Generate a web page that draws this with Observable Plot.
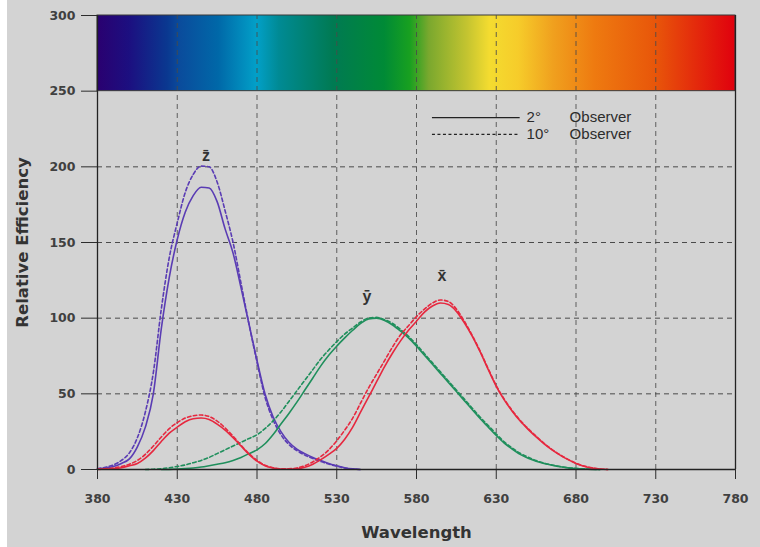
<!DOCTYPE html>
<html>
<head>
<meta charset="utf-8">
<script src="https://cdn.jsdelivr.net/npm/d3@7"></script>
<script src="https://cdn.jsdelivr.net/npm/@observablehq/plot@0.6"></script>
<style>
  html, body { margin: 0; padding: 0; background: #ffffff; }
  #chart { position: absolute; left: 0; top: 0; }
  #chart g[aria-label="x-axis tick label"] text,
  #chart g[aria-label="y-axis tick label"] text {
    font-family: 'DejaVu Sans', sans-serif; font-size: 12.5px !important; font-weight: bold; fill: #404040;
  }
</style>
</head>
<body>
<div id="chart"></div>
<script>
// ---- data ----
const wavelengths = [380,385,390,395,400,405,410,415,420,425,430,435,440,445,450,455,460,465,470,475,480,485,490,495,500,505,510,515,520,525,530,535,540,545,550,555,560,565,570,575,580,585,590,595,600,605,610,615,620,625,630,635,640,645,650,655,660,665,670,675,680,685,690,695,700];

const z2 = [0.5,1,2,4,7,15,28,50,93,127,152,170,181,186.5,186,177,159,143,120,96,72,50,35,25,18,13.5,10.5,8,6,4,2.5,1.2,0.4,0,null,null,null,null,null,null,null,null,null,null,null,null,null,null,null,null,null,null,null,null,null,null,null,null,null,null,null,null,null,null,null];
const z10 = [0.5,1.5,3,6,11,21,38,64,106,140,163,183,195,200.5,200,190,171,150,123,96,71,48,33,23,16.5,12.5,9.5,7.3,5.3,3.6,2.2,1,0.3,0,null,null,null,null,null,null,null,null,null,null,null,null,null,null,null,null,null,null,null,null,null,null,null,null,null,null,null,null,null,null,null];
const x2 = [0.1,0.3,0.6,1.2,2.5,4,7.5,12.5,18.5,24,28,31.5,33.5,34,33,30,26,21,15.5,10,5.5,2.5,1,0.3,0.2,0.5,1.5,3.5,6.5,10,14,20,28,38,48,58,68,77,85,92,98,104,108,110,109,104.5,97,88,77.5,66,55,46,38.5,32,26.5,21.5,17,13,9.5,6.5,4,2.2,1,0.3,0];
const x10 = [0.2,0.5,1,2,3.5,6,10,15.5,21.5,27,31,34,35.5,36,35,32,27.5,22,16,10.5,6,2.8,1.2,0.5,0.5,1,2.5,5,8.5,13,19,26,34,44,54,63,72,81,89,95,101,106,110,112,111,106,98,88.5,78,66.5,55.5,46.5,39,32.5,27,22,17.3,13.2,9.7,6.7,4.1,2.3,1.1,0.4,0];
const y2 = [null,null,null,null,null,null,null,null,0,0.1,0.3,0.6,1,1.6,2.5,3.5,4.5,6,8,10.5,13,17,23,30,37,44.5,52.5,60.5,68.5,75.5,81.5,87,92,96.5,99.5,100,98.5,95.5,91.5,87,81.5,75.5,69.5,63.5,57.5,51.5,45.5,39.5,33.5,28,22.5,17.5,13.5,10,7.5,5.5,4,2.8,1.8,1.1,0.6,0.3,0.1,0,null];
const y10 = [null,null,null,null,null,null,0,0.2,0.5,1.2,2,3,4.5,6,8,10.5,13,15.5,18,20.5,23,27,32,38,45,52,59,66,73,79,84.5,89.5,93.5,97.5,100,100.5,99,96.5,92.5,88,82.5,76.5,70.5,64.5,58.5,52.5,46.5,40.5,34.5,29,23.5,18.3,14.2,10.7,8.1,5.9,4.2,3,2,1.2,0.7,0.4,0.2,0,null];

const xTicks = [380,430,480,530,580,630,680,730,780];
const yTicks = [0,50,100,150,200,250,300];
const gridX = [430,480,530,580,630,680,730];
const gridY = [50,100,150,200];

const spectrumRange = [380, 780];
const spectrumBand = [250, 300];

const curveLabels = ["z\u0304", "y\u0304", "x\u0304"];
const curveLabelX = [448, 549, 596];
const curveLabelY = [207, 114, 128];

const legendLabels = ["2°", "10°"];
const legendWord = "Observer";
const legendY = [232.5, 221.5];

const xTitle = "Wavelength";
const yTitle = "Relative Efficiency";

// ---- styling ----
const PURPLE = "#5a3cb4", RED = "#e6283f", GREEN = "#1f8f5c";
const DASH = "3.5,2.5";

function rows(arr) {
  return wavelengths.map((w, i) => ({w, v: arr[i]})).filter(d => d.v !== null);
}

const series = [
  {data: z2, color: PURPLE, dash: null},
  {data: z10, color: PURPLE, dash: DASH},
  {data: y2, color: GREEN, dash: null},
  {data: y10, color: GREEN, dash: DASH},
  {data: x2, color: RED, dash: null},
  {data: x10, color: RED, dash: DASH}
];

const lineMarks = series.map(s => Plot.line(rows(s.data), {
  x: "w", y: "v", stroke: s.color, strokeWidth: 1.6,
  strokeDasharray: s.dash ?? undefined, curve: "monotone-x"
}));

const labelRows = curveLabels.map((t, i) => ({t, x: curveLabelX[i], y: curveLabelY[i]}));
const legendRows = legendLabels.map((t, i) => ({t, y: legendY[i], dash: i === 0 ? null : "3,2.5"}));

const chart = Plot.plot({
  width: 760,
  height: 547,
  marginLeft: 97,
  marginRight: 25,
  marginTop: 15,
  marginBottom: 78,
  x: {domain: [380, 780]},
  y: {domain: [0, 300]},
  style: {
    background: "linear-gradient(to right, #ffffff 0px, #ffffff 7px, #d3d3d3 7px)",
    fontFamily: "'Liberation Sans', Arial, sans-serif",
    fontSize: "13px",
    color: "#2c2c2c"
  },
  marks: [
    Plot.rect([{x1: spectrumRange[0], x2: spectrumRange[1], y1: spectrumBand[0], y2: spectrumBand[1]}],
      {x1: "x1", x2: "x2", y1: "y1", y2: "y2", fill: "url(#spec)", stroke: "#3a3a3a", strokeWidth: 1}),
    Plot.ruleY(gridY, {stroke: "#4a4a4a", strokeDasharray: "5,4", strokeWidth: 1}),
    Plot.ruleX(gridX, {y1: 0, y2: 300, stroke: "#4a4a4a", strokeDasharray: "5,4", strokeWidth: 1, strokeOpacity: 0.85}),
    ...lineMarks,
    Plot.axisX({ticks: xTicks, tickSize: 10, tickPadding: 15, label: null}),
    Plot.axisY({ticks: yTicks, tickSize: 16, tickPadding: 6, label: null}),
    Plot.ruleX(spectrumRange, {y1: 0, y2: 300, stroke: "#222", strokeWidth: 1.3}),
    Plot.ruleY([0], {stroke: "#222", strokeWidth: 1.3}),
    Plot.text(labelRows, {x: "x", y: "y", text: "t", fontSize: 16, fill: "#333", fontWeight: "bold"}),
    // legend
    Plot.ruleY(legendRows.filter(d => !d.dash), {y: "y", x1: 590, x2: 645, stroke: "#222", strokeWidth: 1.2}),
    Plot.ruleY(legendRows.filter(d => d.dash), {y: "y", x1: 590, x2: 645, stroke: "#222", strokeWidth: 1.2, strokeDasharray: "3,2.5"}),
    Plot.text(legendRows, {x: 649, y: "y", text: "t", textAnchor: "start", fontSize: 15, fill: "#2c2c2c"}),
    Plot.text(legendRows, {x: 676, y: "y", text: () => legendWord, textAnchor: "start", fontSize: 15, fill: "#2c2c2c"}),
    // axis titles
    Plot.text([xTitle], {frameAnchor: "bottom", dy: 68, fontSize: 16.5, fontWeight: "bold", fill: "#333", fontFamily: "'DejaVu Sans', sans-serif"}),
    Plot.text([yTitle], {frameAnchor: "left", dx: -75, rotate: -90, textAnchor: "middle", fontSize: 16.5, fontWeight: "bold", fill: "#333", fontFamily: "'DejaVu Sans', sans-serif"})
  ]
});

// spectrum gradient definition
const stops = [
  [0.00, "#2a0070"], [0.05, "#1c0f80"], [0.11, "#0a3890"], [0.13, "#0a4c9c"],
  [0.19, "#0068a8"], [0.25, "#02a0c8"], [0.285, "#008a94"], [0.37, "#007a52"],
  [0.45, "#008a36"], [0.49, "#18a020"], [0.52, "#7aa82e"], [0.58, "#c4c430"],
  [0.615, "#f4dc30"], [0.66, "#f6cc2a"], [0.715, "#f0a01e"], [0.78, "#ee7a10"],
  [0.875, "#e8560a"], [1.00, "#e0000e"]
];
const ns = "http://www.w3.org/2000/svg";
const defs = document.createElementNS(ns, "defs");
const grad = document.createElementNS(ns, "linearGradient");
grad.setAttribute("id", "spec");
grad.setAttribute("x1", "0"); grad.setAttribute("x2", "1");
grad.setAttribute("y1", "0"); grad.setAttribute("y2", "0");
for (const [o, c] of stops) {
  const s = document.createElementNS(ns, "stop");
  s.setAttribute("offset", o);
  s.setAttribute("stop-color", c);
  grad.appendChild(s);
}
defs.appendChild(grad);
chart.insertBefore(defs, chart.firstChild);

document.getElementById("chart").appendChild(chart);
</script>
</body>
</html>
